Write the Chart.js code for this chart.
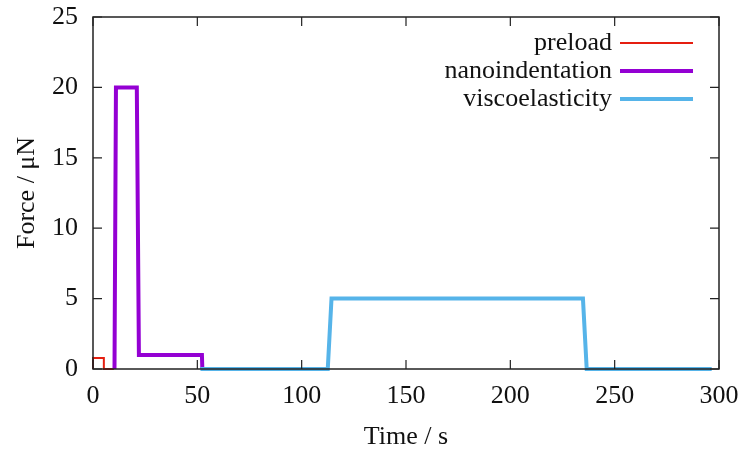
<!DOCTYPE html>
<html>
<head>
<meta charset="utf-8">
<script src="https://cdn.jsdelivr.net/npm/chart.js@4"></script>
<style>
html,body{margin:0;padding:0;background:#fff;}
#wrap{width:744px;height:455px;}
</style>
</head>
<body>
<div id="wrap"><canvas id="c" width="744" height="455"></canvas></div>
<script>
// ---- data ----
const seriesNames = ["preload", "nanoindentation", "viscoelasticity"];
const preloadTime  = [0, 0, 5.2, 5.2, 10];
const preloadForce = [0, 0.78, 0.78, 0, 0];
const nanoTime  = [10.3, 11, 21, 22, 52.2, 52.4];
const nanoForce = [0, 20, 20, 1, 1, 0];
const viscoTime  = [51.5, 112.5, 114.3, 234.8, 236.6, 296.5];
const viscoForce = [0, 0, 5, 5, 0, 0];
const xTicks = [0, 50, 100, 150, 200, 250, 300];
const yTicks = [0, 5, 10, 15, 20, 25];
const xTitle = "Time / s";
const yTitle = "Force / μN";

function pts(t, f){ return t.map((v,i)=>({x:v, y:f[i]})); }

const FONT = "'Liberation Serif', serif";
const FS = 26;
const TXT = '#111';

const frame = {
  id:'frame',
  afterDatasetsDraw(chart){
    const {ctx, chartArea:a, scales:{x,y}} = chart;
    ctx.save();
    ctx.strokeStyle = '#222';
    ctx.lineWidth = 1.5;
    ctx.strokeRect(a.left, a.top, a.right-a.left, a.bottom-a.top);
    const L = 9;
    ctx.lineWidth = 1.2;
    ctx.beginPath();
    x.ticks.forEach(t=>{
      const px = x.getPixelForValue(t.value);
      ctx.moveTo(px, a.bottom); ctx.lineTo(px, a.bottom-L);
      ctx.moveTo(px, a.top); ctx.lineTo(px, a.top+L);
    });
    y.ticks.forEach(t=>{
      const py = y.getPixelForValue(t.value);
      ctx.moveTo(a.left, py); ctx.lineTo(a.left+L, py);
      ctx.moveTo(a.right, py); ctx.lineTo(a.right-L, py);
    });
    ctx.stroke();
    // legend (text right-aligned, sample line to the right)
    const dsOrder = [0,1,2];
    ctx.font = FS + "px " + FONT;
    ctx.textAlign = 'right';
    ctx.textBaseline = 'middle';
    dsOrder.forEach((i,k)=>{
      const ds = chart.data.datasets[i];
      const yy = 43 + k*28;
      ctx.fillStyle = TXT;
      ctx.fillText(ds.label, 612, yy);
      ctx.strokeStyle = ds.borderColor;
      ctx.lineWidth = ds.borderWidth;
      ctx.beginPath(); ctx.moveTo(620, yy); ctx.lineTo(693, yy); ctx.stroke();
    });
    ctx.restore();
  }
};

new Chart(document.getElementById('c'), {
  type:'scatter',
  data:{
    datasets:[
      {label:seriesNames[0], data:pts(preloadTime, preloadForce), borderColor:'#e51e10', borderWidth:2, order:2},
      {label:seriesNames[1], data:pts(nanoTime, nanoForce), borderColor:'#9400d3', borderWidth:4, order:1},
      {label:seriesNames[2], data:pts(viscoTime, viscoForce), borderColor:'#56b4e9', borderWidth:4, order:0}
    ].map(d=>Object.assign(d,{showLine:true, pointRadius:0, fill:false, tension:0, clip:false, borderJoinStyle:'miter', borderCapStyle:'butt'}))
  },
  options:{
    responsive:false,
    animation:false,
    devicePixelRatio:1,
    layout:{padding:{left:0, right:25, top:17, bottom:0}},
    plugins:{legend:{display:false}, tooltip:{enabled:false}},
    scales:{
      x:{
        type:'linear', min:0, max:300,
        afterBuildTicks(s){ s.ticks = xTicks.map(v=>({value:v})); },
        afterFit(s){ s.height = 86; s.paddingRight = 0; s.paddingLeft = 0; },
        grid:{display:false, drawTicks:false},
        border:{display:false},
        ticks:{color:TXT, font:{family:FONT, size:FS}, padding:12, maxRotation:0, autoSkip:false},
        title:{display:true, text:xTitle, color:TXT, font:{family:FONT, size:FS}, padding:{top:0,bottom:2}}
      },
      y:{
        type:'linear', min:0, max:25,
        afterBuildTicks(s){ s.ticks = yTicks.map(v=>({value:v})); },
        afterFit(s){ s.width = 93; s.paddingTop = 0; s.paddingBottom = 0; },
        grid:{display:false, drawTicks:false},
        border:{display:false},
        ticks:{color:TXT, font:{family:FONT, size:FS}, padding:15, autoSkip:false},
        title:{display:true, text:yTitle, color:TXT, font:{family:FONT, size:FS}, padding:{top:12,bottom:0}}
      }
    }
  },
  plugins:[frame]
});
</script>
</body>
</html>
